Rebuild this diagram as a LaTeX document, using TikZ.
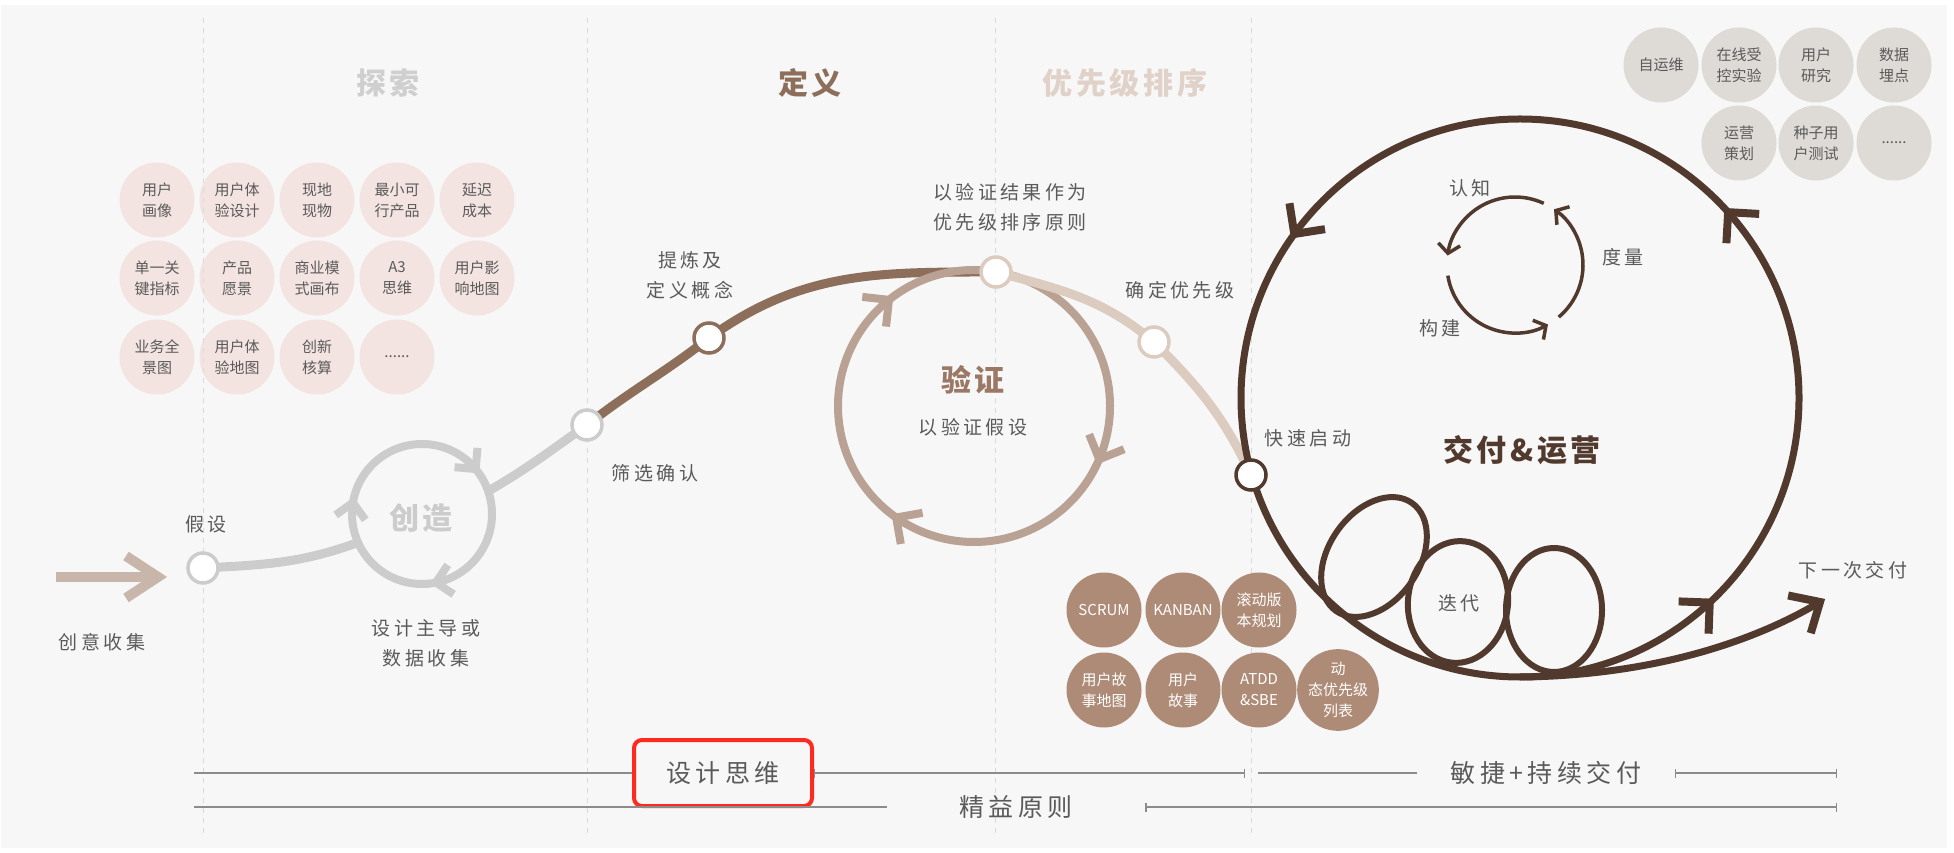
\documentclass[tikz,border=0pt]{standalone}
\usepackage{fontspec}
\setmainfont{Noto Sans CJK SC}
\newfontfamily\spaced{Noto Sans CJK SC}[LetterSpace=18]
\newfontfamily\wide{Noto Sans CJK SC}[LetterSpace=12]
\usetikzlibrary{arrows.meta,decorations.markings,calc}
\definecolor{paper}{HTML}{F7F7F7}
\definecolor{ink}{HTML}{5A5A5A}
\definecolor{ash}{HTML}{CCCCCC}
\definecolor{clay}{HTML}{8D6E5A}
\definecolor{sand}{HTML}{DCCBBF}
\definecolor{taupe}{HTML}{B9A294}
\definecolor{cocoa}{HTML}{513A2D}
\definecolor{blush}{HTML}{F3E4E1}
\definecolor{stone}{HTML}{DEDAD6}
\definecolor{mocha}{HTML}{AE8B77}
\definecolor{rule}{HTML}{8C8C8C}
\definecolor{fence}{HTML}{DADADA}
\definecolor{flag}{HTML}{FF2A1F}
\definecolor{tan}{HTML}{C9B6AA}
\definecolor{rust}{HTML}{9B7865}
\definecolor{mist}{HTML}{CFCFCF}
\definecolor{shell}{HTML}{E0D2C8}
% open chevron drawn at a marking: [style]{length}{half width}{line width}
\newcommand\chevron[4][]{\draw[#1, line width=#4, line cap=butt, line join=miter] (-#2,#3) -- (0,0) -- (-#2,-#3);}
\begin{document}
\begin{tikzpicture}[x=1pt, y=1pt,
	tool/.style={circle, minimum size=75pt, inner sep=0pt, align=center, text=ink, font=\fontsize{15}{21}\selectfont},
	explore/.style={tool, fill=blush},
	operate/.style={tool, fill=stone},
	practice/.style={tool, fill=mocha, text=white},
	waypoint/.style={circle, fill=white, line width=3.5pt, minimum size=30pt, inner sep=0pt},
	note/.style={text=ink, align=center, font=\spaced\fontsize{19}{30}\selectfont},
	phase/.style={font=\wide\bfseries\fontsize{30}{36}\selectfont},
	band/.style={text=ink, inner sep=0pt, minimum height=30pt, font=\spaced\fontsize{25}{30}\selectfont},
	bandline/.style={draw=rule, line width=1.3pt, {Bar[width=9pt]}-{Bar[width=9pt]}},
	divider/.style={draw=fence, line width=1pt, dash pattern=on 5pt off 5pt},
	trail/.style={line width=9pt}]
	\useasboundingbox (0,0) rectangle (1954,852);
	\fill[paper] (1,4) rectangle (1947,847);
	% phases
	\node[phase, text=mist] (hExplore) at (388,769) {探索};
	\node[phase, text=clay] (hDefine) at (810,769) {定义};
	\node[phase, text=shell] (hRank) at (1125,769) {优先级排序};
	% tool circles
	\foreach \x/\y/\t [count=\i] in {
		157/652/{用户\\画像}, 237/652/{用户体\\验设计}, 317/652/{现地\\现物}, 397/652/{最小可\\行产品}, 477/652/{延迟\\成本},
		157/574/{单一关\\键指标}, 237/574/{产品\\愿景}, 317/574/{商业模\\式画布}, 397/574/{A3\\思维}, 477/574/{用户影\\响地图},
		157/495/{业务全\\景图}, 237/495/{用户体\\验地图}, 317/495/{创新\\核算}, 397/495/{......}}
	\node[explore] (ex\i) at (\x,\y) {\t};
	\foreach \x/\y/\t [count=\i] in {
		1661/787/{自运维}, 1739/787/{在线受\\控实验}, 1816/787/{用户\\研究}, 1894/787/{数据\\埋点},
		1739/709/{运营\\策划}, 1816/709/{种子用\\户测试}, 1894/709/{......}}
	\node[operate] (op\i) at (\x,\y) {\t};
	\foreach \x in {203,587,995,1251}
	\draw[divider] (\x,834) -- (\x,17);
	\foreach \x/\y/\t [count=\i] in {
		1104/242/{SCRUM}, 1183/242/{KANBAN}, 1259/242/{滚动版\\本规划},
		1104/162/{用户故\\事地图}, 1183/162/{用户\\故事}, 1259/162/{ATDD\\\&SBE}, 1338/162/{动\\态优先级\\列表}}
	\node[practice] (ag\i) at (\x,\y) {\t};
	% journey
	\path
	(56,275) coordinate (ideas)
	(158,275) coordinate (ideasTip)
	(203,284) coordinate (hyp)
	(422,338) coordinate (createC)
	(587,427) coordinate (screen)
	(709,514) coordinate (refine)
	(996,580) coordinate (peak)
	(974,446) coordinate (verifyC)
	(1154,510) coordinate (prio)
	(1251,377) coordinate (launch)
	(1520,454) coordinate (deliverC)
	(1520,175) coordinate (deliverB)
	(1820,250) coordinate (next)
	(1515,587) coordinate (learnC);
	\draw[tan, line width=10pt, postaction={decorate},
		decoration={markings, mark=at position 1 with {\chevron[tan]{32pt}{21pt}{10pt}}}] (ideas) -- (ideasTip);
	\draw[ash, trail] (hyp) to[out=3, in=200] ($(createC)+(204:70)$);
	\draw[ash, trail] ($(createC)+(19:70)$) to[out=30, in=215] (screen);
	\draw[ash, line width=8pt, postaction={decorate},
		decoration={markings,
			mark=at position 0.111 with {\chevron[ash, xscale=-1]{15pt}{15pt}{8pt}},
			mark=at position 0.474 with {\chevron[ash, xscale=-1]{15pt}{15pt}{8pt}},
			mark=at position 0.782 with {\chevron[ash, xscale=-1]{15pt}{15pt}{8pt}}}] (createC) circle (70);
	\draw[clay, trail] (screen) to[out=38, in=218] (refine) to[out=36, in=180] (peak);
	\draw[taupe, line width=8pt, postaction={decorate},
		decoration={markings,
			mark=at position 0.3575 with {\chevron[taupe, xscale=-1]{19pt}{19pt}{8pt}},
			mark=at position 0.653 with {\chevron[taupe, xscale=-1]{19pt}{19pt}{8pt}},
			mark=at position 0.936 with {\chevron[taupe, xscale=-1]{19pt}{19pt}{8pt}}}] (verifyC) circle (136);
	\draw[sand, trail] (peak) to[out=-15, in=140] (prio) to[out=-45, in=115] (launch);
	\draw[cocoa, line width=7pt, postaction={decorate},
		decoration={markings,
			mark=at position 0.116 with {\chevron[cocoa]{22pt}{22pt}{8pt}},
			mark=at position 0.4 with {\chevron[cocoa]{22pt}{22pt}{8pt}},
			mark=at position 0.869 with {\chevron[cocoa]{22pt}{22pt}{8pt}}}] (deliverC) circle (279);
	\draw[cocoa, line width=7pt, postaction={decorate},
		decoration={markings, mark=at position 1 with {\chevron[cocoa]{24pt}{22pt}{8pt}}}] (deliverB) .. controls (1640,176) and (1745,205) .. (next);
	\foreach \cx/\cy/\rx/\ry/\tilt in {1374/295/45/66/-35, 1458/250/50/61/-6, 1554/242/48/62/0}
	\draw[cocoa, line width=6pt, rotate around={\tilt:(\cx,\cy)}] (\cx,\cy) ellipse[x radius=\rx, y radius=\ry];
	\foreach \a/\b in {65/172, 189/299, 310/415}
	\draw[cocoa, line width=3.5pt, -{Straight Barb[length=9pt, width=22pt]}] ($(learnC)+(\a:68)$) arc[start angle=\a, end angle=\b, radius=68];
	\foreach \p/\c in {hyp/ash, screen/ash, refine/clay, peak/sand, prio/sand, launch/cocoa}
	\node[waypoint, draw=\c] (\p Dot) at (\p) {};
	% labels
	\node[phase, text=ash] (createText) at (421,334) {创造};
	\node[phase, text=rust] (verifyText) at (973,472) {验证};
	\node[phase, text=cocoa] (deliverText) at (1522,402) {交付\&运营};
	\node[note] (hypText) at (206,328) {假设};
	\node[note] (ideasText) at (102,210) {创意收集};
	\node[note] (createNote) at (426,209) {设计主导或\\数据收集};
	\node[note] (screenText) at (655,379) {筛选确认};
	\node[note] (refineText) at (690,577) {提炼及\\定义概念};
	\node[note] (peakText) at (1010,645) {以验证结果作为\\优先级排序原则};
	\node[note] (prioText) at (1180,562) {确定优先级};
	\node[note] (verifyNote) at (973,425) {以验证假设};
	\node[note] (launchText) at (1308,414) {快速启动};
	\node[note] (nextText) at (1853,282) {下一次交付};
	\node[note] (iterText) at (1459,249) {迭代};
	\node[note] (learnText) at (1470,664) {认知};
	\node[note] (measureText) at (1623,595) {度量};
	\node[note] (buildText) at (1440,524) {构建};
	% bands
	\node[band, draw=flag, line width=4pt, rounded corners=8pt, minimum width=178pt, minimum height=66pt] (design) at (723,79) {设计思维};
	\node[band, minimum width=257pt] (agile) at (1546,79) {敏捷+持续交付};
	\node[band, minimum width=258pt] (lean) at (1016,45) {精益原则};
	\path
	(194,79) coordinate (designL) (1245,79) coordinate (designR)
	(1258,79) coordinate (agileL) (1837,79) coordinate (agileR)
	(194,45) coordinate (leanL) (1837,45) coordinate (leanR);
	\draw[bandline] (designL) -- (design) -- (designR);
	\draw[bandline] (agileL) -- (agile) -- (agileR);
	\draw[bandline] (leanL) -- (lean) -- (leanR);
\end{tikzpicture}
\end{document}
